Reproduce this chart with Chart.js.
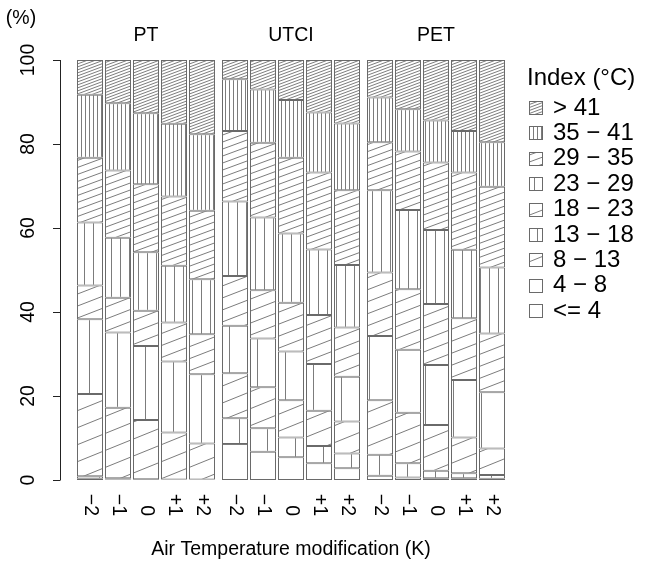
<!DOCTYPE html>
<html>
<head>
<meta charset="utf-8">
<script src="https://cdn.jsdelivr.net/npm/chart.js@4"></script>
<style>
  html, body { margin: 0; padding: 0; background: #ffffff; }
  #caja { width: 657px; height: 564px; }
</style>
</head>
<body>
<div id="caja"><canvas id="grafica"></canvas></div>
<script>
// grupos de barras y modificaciones de temperatura del aire
const indices = ['PT', 'UTCI', 'PET']
const modificaciones = ['−2', '−1', '0', '+1', '+2']
const marcasY = [0, 20, 40, 60, 80, 100]

// clases de la leyenda, de abajo hacia arriba en la pila
const clases = ['<= 4', '4 − 8', '8 − 13', '13 − 18', '18 − 23', '23 − 29', '29 − 35', '35 − 41', '> 41']

// porcentajes por clase; barras: PT -2..+2, UTCI -2..+2, PET -2..+2
const hasta4   = [0.3, 0.1, 0.0, 0.0, 0.0,   8.6, 6.7, 5.4, 4.0, 2.8,   1.0, 0.6, 0.4, 0.4, 0.3]
const de4a8    = [0.6, 0.3, 0.2, 0.1, 0.1,   6.1, 5.6, 4.7, 4.1, 3.5,   5.0, 3.4, 1.8, 1.2, 0.9]
const de8a13   = [19.6, 16.8, 14.1, 11.2, 8.6,   10.7, 9.8, 8.9, 8.4, 7.6,   13.0, 12.0, 10.9, 8.5, 6.3]
const de13a18  = [17.8, 17.9, 17.6, 16.9, 16.5,   11.3, 11.6, 11.6, 11.1, 10.7,   15.3, 15.0, 14.3, 13.7, 13.4]
const de18a23  = [8.0, 8.3, 8.4, 9.3, 9.5,   11.9, 11.5, 11.6, 11.7, 11.7,   15.1, 14.4, 14.5, 14.7, 14.0]
const de23a29  = [15.0, 14.3, 13.9, 13.5, 13.1,   17.7, 17.3, 16.5, 15.6, 14.9,   19.6, 18.9, 17.6, 16.3, 15.7]
const de29a35  = [15.4, 16.0, 16.2, 16.5, 16.3,   16.8, 17.8, 18.0, 18.3, 17.8,   11.4, 13.9, 16.1, 18.4, 19.2]
const de35a41  = [15.0, 16.0, 16.9, 17.3, 18.2,   12.3, 12.7, 13.8, 14.3, 15.9,   10.7, 10.1, 10.0, 9.9, 10.6]
const mas41    = [8.3, 10.3, 12.7, 15.2, 17.7,   4.6, 7.0, 9.5, 12.5, 15.1,   8.9, 11.7, 14.4, 16.9, 19.6]

const series = [hasta4, de4a8, de8a13, de13a18, de18a23, de23a29, de29a35, de35a41, mas41]

const colorRaya = '#7c7c7c'
const colorBorde = '#6a6a6a'
const fuente = '"Liberation Sans", Arial, Helvetica, sans-serif'

// lineas verticales cada "espacio" px
const verticales = (espacio, desplazamiento) => {
    const c = document.createElement('canvas')
    c.width = espacio
    c.height = 1
    const g = c.getContext('2d')
    g.fillStyle = '#ffffff'
    g.fillRect(0, 0, espacio, 1)
    g.fillStyle = colorRaya
    g.fillRect(0, 0, 1, 1)
    const p = g.createPattern(c, 'repeat')
    p.setTransform(new DOMMatrix().translate(desplazamiento, 0))
    return p
}

// lineas inclinadas que suben hacia la derecha; alto = separacion vertical
const inclinadas = (alto, ancho) => {
    const c = document.createElement('canvas')
    c.width = ancho
    c.height = alto
    const g = c.getContext('2d')
    g.fillStyle = '#ffffff'
    g.fillRect(0, 0, ancho, alto)
    g.strokeStyle = colorRaya
    g.lineWidth = 1
    for (const d of [-alto, 0, alto]) {
        g.beginPath()
        g.moveTo(0, alto + d)
        g.lineTo(ancho, d)
        g.stroke()
    }
    return g.createPattern(c, 'repeat')
}

const tramas = [
    '#ffffff',
    verticales(28, 15),
    inclinadas(17, 42),
    verticales(28, 5),
    inclinadas(12, 31),
    verticales(9, 3),
    inclinadas(7, 19),
    verticales(4, 1),
    inclinadas(3, 8)
]

// posicion de cada barra en el eje x, con un hueco entre grupos
const huecoGrupo = 5 / 28
const posiciones = []
indices.forEach((_, g) => {
    modificaciones.forEach((_, i) => {
        posiciones.push(g * modificaciones.length + i + g * huecoGrupo)
    })
})

const datasets = series.map((valores, k) => ({
    label: clases[k],
    data: valores.map((v, i) => ({ x: posiciones[i], y: v })),
    backgroundColor: tramas[k],
    borderColor: colorBorde,
    borderWidth: 1,
    borderSkipped: false,
    barPercentage: 26 / 28,
    categoryPercentage: 1
}))

const ejesR = {
    id: 'ejesR',
    beforeDraw(chart) {
        const ctx = chart.ctx
        ctx.save()
        ctx.fillStyle = '#ffffff'
        ctx.fillRect(0, 0, chart.width, chart.height)
        ctx.restore()
    },
    afterDraw(chart) {
        const ctx = chart.ctx
        const x = chart.scales.x
        const y = chart.scales.y
        const izq = chart.chartArea.left
        ctx.save()
        ctx.fillStyle = '#000000'
        ctx.strokeStyle = '#222222'
        ctx.lineWidth = 1
        ctx.font = `19.5px ${fuente}`

        // eje y
        const arriba = y.getPixelForValue(marcasY[marcasY.length - 1])
        const abajo = y.getPixelForValue(marcasY[0])
        ctx.beginPath()
        ctx.moveTo(izq + 0.5, arriba)
        ctx.lineTo(izq + 0.5, abajo)
        marcasY.forEach(v => {
            const py = Math.round(y.getPixelForValue(v)) + 0.5
            ctx.moveTo(izq + 0.5, py)
            ctx.lineTo(izq - 7, py)
        })
        ctx.stroke()
        marcasY.forEach(v => {
            const py = y.getPixelForValue(v)
            ctx.save()
            ctx.translate(29, py)
            ctx.rotate(-Math.PI / 2)
            ctx.textAlign = 'center'
            ctx.textBaseline = 'middle'
            ctx.fillText(String(v), 0, 0)
            ctx.restore()
        })
        ctx.textAlign = 'center'
        ctx.textBaseline = 'middle'
        ctx.fillText('(%)', 21, 19)

        // etiquetas de las barras
        posiciones.forEach((p, i) => {
            const px = x.getPixelForValue(p)
            ctx.save()
            ctx.translate(px, 516)
            ctx.rotate(Math.PI / 2)
            ctx.textAlign = 'right'
            ctx.textBaseline = 'middle'
            ctx.fillText(modificaciones[i % modificaciones.length], 0, 0)
            ctx.restore()
        })

        // titulos de grupo
        indices.forEach((nombre, g) => {
            const a = x.getPixelForValue(posiciones[g * modificaciones.length])
            const b = x.getPixelForValue(posiciones[g * modificaciones.length + modificaciones.length - 1])
            ctx.textAlign = 'center'
            ctx.textBaseline = 'middle'
            ctx.fillText(nombre, (a + b) / 2, 36)
        })

        // titulo del eje x
        ctx.fillText('Air Temperature modification (K)', (chart.chartArea.left + chart.chartArea.right) / 2, 550)

        // leyenda
        ctx.font = `24px ${fuente}`
        ctx.textAlign = 'left'
        ctx.fillText('Index (°C)', 527, 78)
        for (let k = clases.length - 1, fila = 0; k >= 0; k--, fila++) {
            const py = 108 + fila * 25.4
            const bx = 529.5
            const by = Math.round(py - 7) + 0.5
            ctx.fillStyle = tramas[k]
            ctx.fillRect(bx, by, 13, 13)
            ctx.strokeStyle = colorBorde
            ctx.strokeRect(bx, by, 13, 13)
            ctx.fillStyle = '#000000'
            ctx.fillText(clases[k], 553, py)
        }
        ctx.restore()
    }
}

new Chart(document.getElementById('grafica'), {
    type: 'bar',
    data: { datasets },
    options: {
        responsive: true,
        maintainAspectRatio: false,
        animation: false,
        layout: { padding: { left: 60, right: 135, top: 60, bottom: 84 } },
        plugins: {
            legend: { display: false },
            tooltip: { enabled: false }
        },
        scales: {
            x: {
                type: 'linear',
                offset: false,
                min: -30 / 28,
                max: -30 / 28 + 16.5,
                stacked: true,
                display: false,
                ticks: { stepSize: 2 }
            },
            y: {
                min: 0,
                max: 100,
                stacked: true,
                display: false
            }
        }
    },
    plugins: [ejesR]
})
</script>
</body>
</html>
